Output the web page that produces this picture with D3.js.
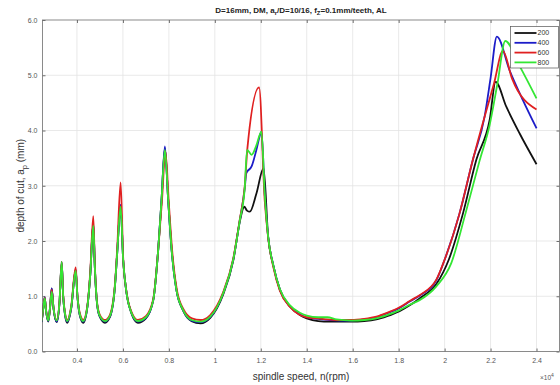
<!DOCTYPE html>
<html>
<head>
<meta charset="utf-8">
<script src="https://cdn.jsdelivr.net/npm/d3@7"></script>
<style>
  html, body { margin: 0; padding: 0; background: #fff; }
  svg { display: block; }
</style>
</head>
<body>
<svg id="chart" width="560" height="385"></svg>
<script>
// legend labels (one per curve)
const speeds = ["200", "400", "600", "800"];
const lineColors = ["#111111", "#1c1cc8", "#e02020", "#33e633"];

const xTicks = [4000, 6000, 8000, 10000, 12000, 14000, 16000, 18000, 20000, 22000, 24000];
const yTicks = [0, 1, 2, 3, 4, 5, 6];

// [spindle speed rpm, depth of cut mm]
const depth200 = [
  [2465, 0.53], [2525, 0.75], [2596, 0.98], [2660, 0.72], [2752, 0.54], [2830, 0.8], [2900, 1.14],
  [2980, 0.78], [3117, 0.53], [3240, 0.88], [3335, 1.6], [3400, 1.0], [3480, 0.66], [3580, 0.52],
  [3750, 0.78], [3943, 1.48], [4020, 1.0], [4120, 0.66], [4274, 0.52], [4450, 0.8], [4580, 1.4],
  [4709, 2.32], [4780, 1.5], [4880, 0.84], [5000, 0.62], [5220, 0.52], [5430, 0.62], [5650, 1.17],
  [5750, 1.78], [5900, 2.64], [6010, 1.66], [6160, 1.05], [6380, 0.68], [6650, 0.52], [7000, 0.6],
  [7320, 0.93], [7535, 1.84], [7680, 2.74], [7826, 3.68], [7970, 2.74], [8120, 1.84], [8330, 1.11],
  [8620, 0.74], [8990, 0.55], [9380, 0.51], [9800, 0.61], [10360, 1.03], [10800, 1.64], [11090, 2.36],
  [11280, 2.62], [11400, 2.55], [11520, 2.53], [11810, 2.86], [12120, 3.32], [12320, 2.08],
  [12550, 1.55], [12830, 1.12], [13260, 0.82], [13700, 0.66], [14000, 0.6], [14500, 0.55],
  [15000, 0.54], [15940, 0.54], [16500, 0.55], [17030, 0.58], [17500, 0.64], [18040, 0.73],
  [18500, 0.84], [18910, 0.96], [19640, 1.22], [20180, 1.66], [20800, 2.5], [21380, 3.47],
  [21960, 4.19], [22220, 4.88], [22685, 4.43], [23260, 3.95], [24000, 3.39]
];

const depth400 = [
  [2465, 0.54], [2525, 0.75], [2596, 0.98], [2660, 0.72], [2752, 0.55], [2830, 0.8], [2900, 1.14],
  [2980, 0.78], [3117, 0.54], [3240, 0.89], [3335, 1.62], [3400, 1.0], [3480, 0.67], [3580, 0.54],
  [3750, 0.79], [3943, 1.48], [4020, 1.0], [4120, 0.67], [4274, 0.54], [4450, 0.8], [4580, 1.4],
  [4709, 2.33], [4780, 1.5], [4880, 0.85], [5000, 0.63], [5220, 0.54], [5430, 0.63], [5650, 1.17],
  [5750, 1.78], [5900, 2.66], [6010, 1.66], [6160, 1.05], [6380, 0.69], [6650, 0.54], [7000, 0.61],
  [7320, 0.93], [7535, 1.84], [7680, 2.74], [7826, 3.71], [7970, 2.74], [8120, 1.84], [8330, 1.11],
  [8620, 0.75], [8990, 0.56], [9380, 0.53], [9800, 0.62], [10360, 1.05], [10800, 1.66], [11090, 2.38],
  [11300, 2.95], [11370, 3.23], [11600, 3.35], [11810, 3.65], [11990, 3.95], [12030, 3.98],
  [12170, 2.86], [12320, 2.08], [12550, 1.55], [12830, 1.12], [13260, 0.82], [13700, 0.67],
  [14000, 0.62], [14500, 0.59], [15000, 0.57], [15940, 0.56], [16500, 0.58], [17030, 0.62],
  [17500, 0.69], [18040, 0.79], [18500, 0.91], [18910, 1.01], [19640, 1.29], [20000, 1.66],
  [20650, 2.5], [21230, 3.47], [21740, 4.25], [22000, 4.95], [22275, 5.7], [22826, 5.09],
  [23406, 4.55], [24000, 4.04]
];

const depth600 = [
  [2465, 0.56], [2525, 0.76], [2596, 0.97], [2660, 0.73], [2752, 0.57], [2830, 0.8], [2900, 1.12],
  [2980, 0.79], [3117, 0.57], [3240, 0.9], [3335, 1.62], [3400, 1.02], [3480, 0.7], [3580, 0.57],
  [3750, 0.82], [3943, 1.52], [4020, 1.02], [4120, 0.7], [4274, 0.57], [4450, 0.82], [4580, 1.45],
  [4709, 2.45], [4780, 1.55], [4880, 0.87], [5000, 0.66], [5220, 0.57], [5430, 0.66], [5650, 1.2],
  [5750, 1.85], [5900, 3.06], [6010, 1.7], [6160, 1.07], [6380, 0.71], [6650, 0.57], [7000, 0.64],
  [7320, 0.95], [7535, 1.84], [7700, 2.74], [7850, 3.62], [7990, 2.74], [8140, 1.84], [8350, 1.11],
  [8640, 0.76], [9000, 0.6], [9380, 0.57], [9800, 0.66], [10360, 1.07], [10800, 1.68], [11090, 2.4],
  [11300, 2.98], [11418, 3.68], [11926, 4.78], [12170, 2.74], [12320, 2.06], [12550, 1.52],
  [12830, 1.1], [13260, 0.81], [13700, 0.66], [14000, 0.62], [14500, 0.6], [14900, 0.58],
  [15300, 0.57], [15940, 0.57], [16500, 0.59], [17030, 0.63], [17500, 0.7], [18040, 0.8],
  [18500, 0.92], [18910, 1.02], [19640, 1.3], [20000, 1.66], [20650, 2.5], [21230, 3.47],
  [21740, 4.25], [22150, 4.85], [22535, 5.44], [22935, 4.94], [24000, 4.38]
];

const depth800 = [
  [2465, 0.55], [2525, 0.75], [2596, 0.96], [2660, 0.72], [2752, 0.56], [2830, 0.8], [2900, 1.08],
  [2980, 0.78], [3117, 0.56], [3240, 0.9], [3335, 1.62], [3400, 1.0], [3480, 0.68], [3580, 0.55],
  [3750, 0.8], [3943, 1.46], [4020, 1.0], [4120, 0.68], [4274, 0.55], [4450, 0.8], [4580, 1.4],
  [4709, 2.28], [4780, 1.5], [4880, 0.85], [5000, 0.64], [5220, 0.55], [5430, 0.64], [5650, 1.17],
  [5750, 1.78], [5900, 2.62], [6010, 1.66], [6160, 1.05], [6380, 0.69], [6650, 0.55], [7000, 0.62],
  [7320, 0.93], [7535, 1.84], [7680, 2.74], [7826, 3.65], [7970, 2.74], [8120, 1.84], [8330, 1.11],
  [8620, 0.75], [8990, 0.57], [9380, 0.54], [9800, 0.63], [10360, 1.05], [10800, 1.66], [11090, 2.38],
  [11300, 2.95], [11404, 3.65], [11600, 3.56], [11800, 3.72], [12030, 3.98], [12170, 2.86],
  [12320, 2.08], [12550, 1.55], [12830, 1.13], [13260, 0.84], [13700, 0.7], [14000, 0.65],
  [14500, 0.62], [14900, 0.62], [15300, 0.58], [15940, 0.56], [16500, 0.57], [17030, 0.6],
  [17500, 0.66], [18040, 0.75], [18500, 0.85], [18910, 0.93], [19640, 1.18], [20290, 1.6],
  [20910, 2.5], [21520, 3.45], [21960, 4.1], [22300, 4.85], [22640, 5.62], [23260, 5.17],
  [24000, 4.58]
];

const seriesList = [depth200, depth400, depth600, depth800];

const width = 560;
const height = 385;
const plot = { left: 42.5, right: 559.5, top: 20, bottom: 351.5 };
const font = "'Liberation Sans', Arial, sans-serif";

const svg = d3.select("#chart").attr("viewBox", `0 0 ${width} ${height}`);

// scales
const x = d3.scaleLinear().domain([2500, 25000]).range([plot.left, plot.right]);
const y = d3.scaleLinear().domain([0, 6]).range([plot.bottom, plot.top]);

// grid
const grid = svg.append("g").attr("class", "grid");
grid
  .selectAll("line.gx")
  .data(xTicks)
  .enter()
  .append("line")
  .attr("x1", (d) => x(d))
  .attr("x2", (d) => x(d))
  .attr("y1", plot.top)
  .attr("y2", plot.bottom)
  .attr("stroke", "#e3e3e3")
  .attr("stroke-width", 0.8);
grid
  .selectAll("line.gy")
  .data(yTicks.slice(1, -1))
  .enter()
  .append("line")
  .attr("x1", plot.left)
  .attr("x2", plot.right)
  .attr("y1", (d) => y(d))
  .attr("y2", (d) => y(d))
  .attr("stroke", "#e3e3e3")
  .attr("stroke-width", 0.8);

// axes, ticks pointing inward like matlab
const axisColor = "#6e6e6e";
const xAxis = d3.axisBottom(x).tickValues(xTicks).tickSize(-3).tickPadding(7)
  .tickFormat((d) => d3.format("~g")(d / 10000));
const yAxis = d3.axisLeft(y).tickValues(yTicks).tickSize(-3).tickPadding(5);

svg.append("g")
  .attr("transform", `translate(0,${plot.bottom})`)
  .call(xAxis);
svg.append("g")
  .attr("transform", `translate(${plot.left},0)`)
  .call(yAxis);
svg.append("g")
  .attr("transform", `translate(0,${plot.top})`)
  .call(d3.axisTop(x).tickValues(xTicks).tickSize(-3).tickFormat(""));
svg.append("g")
  .attr("transform", `translate(${plot.right},0)`)
  .call(d3.axisRight(y).tickValues(yTicks).tickSize(-3).tickFormat(""));

svg.selectAll(".domain").remove();
svg.selectAll(".tick line").attr("stroke", axisColor);
svg.selectAll(".tick text")
  .style("font-family", font)
  .style("font-size", "7px")
  .attr("fill", "#555");

// frame
svg.append("rect")
  .attr("x", plot.left)
  .attr("y", plot.top)
  .attr("width", plot.right - plot.left)
  .attr("height", plot.bottom - plot.top)
  .attr("fill", "none")
  .attr("stroke", axisColor)
  .attr("stroke-width", 0.8);

// curves
const clip = svg.append("clipPath").attr("id", "clip")
  .append("rect")
  .attr("x", plot.left)
  .attr("y", plot.top)
  .attr("width", plot.right - plot.left)
  .attr("height", plot.bottom - plot.top);

const line = d3.line()
  .x((d) => x(d[0]))
  .y((d) => y(d[1]))
  .curve(d3.curveMonotoneX);

svg.append("g")
  .attr("clip-path", "url(#clip)")
  .selectAll("path")
  .data(seriesList)
  .enter()
  .append("path")
  .attr("d", line)
  .attr("fill", "none")
  .attr("stroke", (d, i) => lineColors[i])
  .attr("stroke-width", 1.8)
  .attr("stroke-linejoin", "round");

// title
const title = svg.append("text")
  .attr("x", (plot.left + plot.right) / 2)
  .attr("y", 12.5)
  .attr("text-anchor", "middle")
  .style("font-family", font)
  .style("font-size", "8px")
  .style("font-weight", "bold")
  .attr("fill", "#222");
title.append("tspan").text("D=16mm, DM, a");
title.append("tspan").attr("dy", 2).style("font-size", "6px").text("r");
title.append("tspan").attr("dy", -2).text("/D=10/16, f");
title.append("tspan").attr("dy", 2).style("font-size", "6px").text("Z");
title.append("tspan").attr("dy", -2).text("=0.1mm/teeth, AL");

// axis labels
svg.append("text")
  .attr("x", (plot.left + plot.right) / 2)
  .attr("y", 380)
  .attr("text-anchor", "middle")
  .style("font-family", font)
  .style("font-size", "10px")
  .attr("fill", "#333")
  .text("spindle speed, n(rpm)");

const yLabel = svg.append("text")
  .attr("transform", `translate(24,${(plot.top + plot.bottom) / 2}) rotate(-90)`)
  .attr("text-anchor", "middle")
  .style("font-family", font)
  .style("font-size", "10px")
  .attr("fill", "#333");
yLabel.append("tspan").text("depth of cut, a");
yLabel.append("tspan").attr("dy", 2.5).style("font-size", "7.5px").text("p");
yLabel.append("tspan").attr("dy", -2.5).text(" (mm)");

// x10^4 exponent
const expo = svg.append("text")
  .attr("x", 540)
  .attr("y", 380)
  .style("font-family", font)
  .style("font-size", "6.5px")
  .attr("fill", "#555");
expo.append("tspan").text("\u00d710");
expo.append("tspan").attr("dy", -3).style("font-size", "5px").text("4");

// legend
const legend = svg.append("g").attr("transform", "translate(510.5,26.5)");
legend.append("rect")
  .attr("width", 48)
  .attr("height", 41.5)
  .attr("fill", "#fff")
  .attr("stroke", "#555")
  .attr("stroke-width", 0.7);

const item = legend.selectAll("g.item")
  .data(speeds)
  .enter()
  .append("g")
  .attr("class", "item")
  .attr("transform", (d, i) => `translate(0,${6.5 + i * 9.8})`);

item.append("line")
  .attr("x1", 4)
  .attr("x2", 26)
  .attr("stroke", (d, i) => lineColors[i])
  .attr("stroke-width", 1.8);

item.append("text")
  .attr("x", 27)
  .attr("dy", "0.35em")
  .style("font-family", font)
  .style("font-size", "7px")
  .attr("fill", "#333")
  .text((d) => d);
</script>
</body>
</html>
